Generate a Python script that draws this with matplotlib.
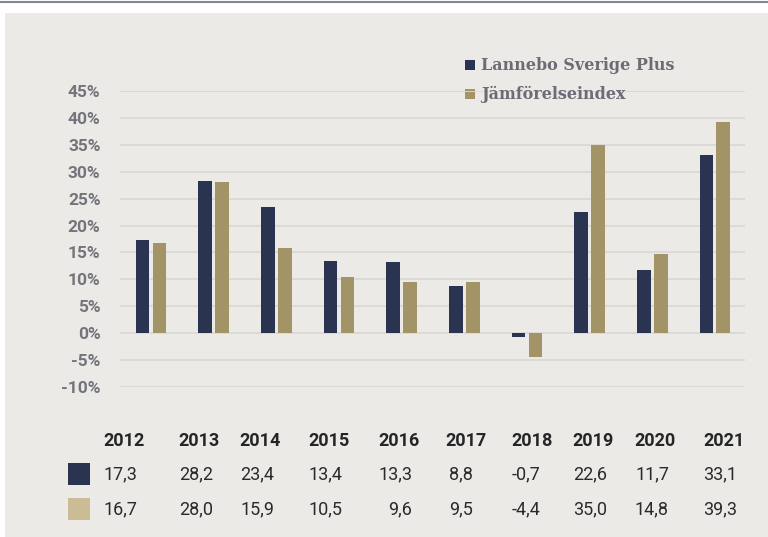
import numpy as np
import matplotlib
matplotlib.use("Agg")
from matplotlib import pyplot as plt
from matplotlib.patches import Rectangle

# data
years = ["2012", "2013", "2014", "2015", "2016", "2017", "2018", "2019", "2020", "2021"]
lannebo = [17.3, 28.2, 23.4, 13.4, 13.3, 8.8, -0.7, 22.6, 11.7, 33.1]
index_vals = [16.7, 28.0, 15.9, 10.5, 9.6, 9.5, -4.4, 35.0, 14.8, 39.3]
series_names = ["Lannebo Sverige Plus", "Jämförelseindex"]
yticks = [-10, -5, 0, 5, 10, 15, 20, 25, 30, 35, 40, 45]

navy = "#2A3450"
gold = "#A39467"
swatch_gold = "#CABD95"
bg = "#EBEAE6"
W, H = 768, 537


def fx(px):
    return px / W


def fy(py):
    return 1 - py / H


fig = plt.figure(figsize=(7.68, 5.37), dpi=100, facecolor="white")
fig.patches.append(Rectangle((fx(5), 0), 1, fy(13), transform=fig.transFigure,
                             facecolor=bg, edgecolor="none", zorder=-5))
fig.add_artist(plt.Line2D([0, 1], [fy(1.5), fy(1.5)], transform=fig.transFigure,
                          color="#7F8894", lw=1.5))

ax = fig.add_axes([fx(120), fy(387), fx(745) - fx(120), fy(91) - fy(387)])
ax.set_zorder(2)
ax.set_facecolor("none")
x = np.arange(len(years))
bw = 0.22
ax.bar(x - 0.135, lannebo, bw, color=navy, zorder=3)
ax.bar(x + 0.135, index_vals, bw, color=gold, zorder=3)
ax.set_xlim(-0.495, 9.48)
ax.set_ylim(-10, 45)
ax.set_yticks(yticks)
ax.set_yticklabels([f"{t}%" for t in yticks],
                   fontfamily=["Liberation Sans Narrow", "Roboto"],
                   fontweight="bold", fontsize=12.5, color="#75747C")
ax.set_xticks([])
ax.tick_params(axis="y", length=0, pad=14)
for s in ax.spines.values():
    s.set_visible(False)
ax.grid(axis="y", color="#DAD9D6", lw=1.3, zorder=0)

# legend
for i, (name, col) in enumerate(zip(series_names, [navy, gold])):
    yc = 65 + i * 29
    fig.patches.append(Rectangle((fx(465), fy(yc + 5)), fx(10), fy(0) - fy(10),
                                 transform=fig.transFigure, facecolor=col,
                                 edgecolor="none", zorder=1))
    fig.text(fx(481), fy(yc), name, fontfamily="DejaVu Serif", fontweight="bold",
             fontsize=11.5, color="#6D6C76", va="center", ha="left")

# table below
year_left = [103, 178, 239, 308, 378, 445, 511, 572, 634, 703]
val_right = [137, 213, 274, 343, 412, 473, 540, 607, 669, 737]
for i, yr in enumerate(years):
    fig.text(fx(year_left[i]), fy(441), yr, fontfamily="Roboto", fontweight="bold",
             fontsize=13, color="#252528", va="center", ha="left")
    for row, vals in enumerate([lannebo, index_vals]):
        txt = f"{vals[i]:.1f}".replace(".", ",")
        fig.text(fx(val_right[i]), fy(474 + row * 35), txt, fontfamily="Roboto",
                 fontsize=13, color="#2A2A2C", va="center", ha="right")

for row, col in enumerate([navy, swatch_gold]):
    top = 463 + row * 35
    fig.patches.append(Rectangle((fx(68), fy(top + 22)), fx(22), fy(0) - fy(22),
                                 transform=fig.transFigure, facecolor=col,
                                 edgecolor="none", zorder=1))

fig.savefig("out.png", dpi=100, facecolor="white")
